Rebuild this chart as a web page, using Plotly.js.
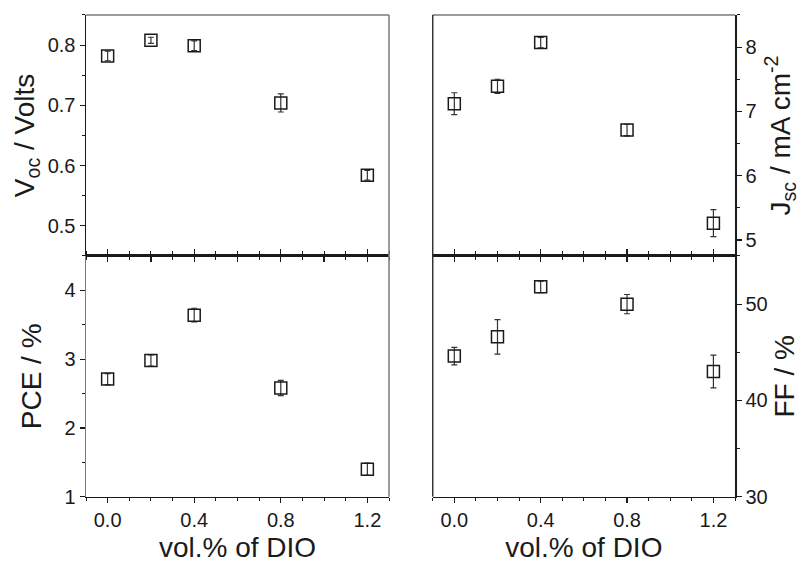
<!DOCTYPE html>
<html>
<head>
<meta charset="utf-8">
<script src="https://cdn.plot.ly/plotly-3.0.1.min.js"></script>
<style>html,body{margin:0;padding:0;background:#fff;}#chart{width:800px;height:563px;}</style>
</head>
<body>
<div id="chart"></div>
<script>
// vol.% of DIO
const dio = [0, 0.2, 0.4, 0.8, 1.2];
// Voc (Volts)
const voc = [0.782, 0.808, 0.799, 0.704, 0.584];
const vocErr = [0.008, 0.005, 0.008, 0.015, 0.008];
// Jsc (mA cm^-2)
const jsc = [7.12, 7.39, 8.07, 6.71, 5.26];
const jscErr = [0.17, 0.11, 0.08, 0.09, 0.21];
// PCE (%)
const pce = [2.71, 2.98, 3.64, 2.58, 1.40];
const pceErr = [0.08, 0.08, 0.10, 0.11, 0.09];
// FF (%)
const ff = [44.6, 46.6, 51.8, 50.0, 43.0];
const ffErr = [0.9, 1.8, 0.6, 1.0, 1.7];
// x ticks
const xMajorTicks = [0, 0.2, 0.4, 0.6, 0.8, 1.0, 1.2];
const xLabelVals = [0, 0.4, 0.8, 1.2];
const xLabelText = ['0.0', '0.4', '0.8', '1.2'];

const FONT = 'Liberation Sans, Arial, sans-serif';
const BLACK = '#1a1a1a';
const GRAY = '#7a7a7a';

function trace(y, err, xa, ya) {
  return {
    x: dio, y: y, xaxis: xa, yaxis: ya, type: 'scatter', mode: 'markers',
    marker: {symbol: 'square-open', size: 12, color: BLACK, line: {width: 1.5, color: BLACK}},
    error_y: {type: 'data', array: err, visible: true, color: '#333', thickness: 1.2, width: 3},
    showlegend: false, hoverinfo: 'x+y'
  };
}

const data = [
  trace(voc, vocErr, 'x', 'y'),
  trace(jsc, jscErr, 'x2', 'y2'),
  trace(pce, pceErr, 'x3', 'y3'),
  trace(ff, ffErr, 'x4', 'y4')
];

const xL = [0.1075, 0.48625];
const xR = [0.5409, 0.91875];
const yT = [0.5453, 0.9734];
const yB = [0.1178, 0.5453];

function xaxisTop(domain, anchor) {
  return {
    domain: domain, anchor: anchor, range: [-0.1, 1.3], showgrid: false, zeroline: false,
    showline: true, linecolor: BLACK, linewidth: 1.5,
    tickmode: 'array', tickvals: xMajorTicks,
    ticks: 'outside', ticklen: 5, tickwidth: 1.2, tickcolor: BLACK,
    minor: {dtick: 0.1, ticks: 'outside', ticklen: 3, tickcolor: BLACK, tickwidth: 1},
    showticklabels: false, fixedrange: true
  };
}
function xaxisBottom(domain, anchor) {
  return {
    domain: domain, anchor: anchor, range: [-0.1, 1.3], showgrid: false, zeroline: false,
    showline: true, linecolor: BLACK, linewidth: 1.5, mirror: 'ticks',
    tickmode: 'array', tickvals: xLabelVals, ticktext: xLabelText,
    ticks: 'outside', ticklen: 5, tickwidth: 1.2, tickcolor: BLACK,
    minor: {dtick: 0.1, ticks: 'outside', ticklen: 3, tickcolor: BLACK, tickwidth: 1},
    tickfont: {family: FONT, size: 20, color: BLACK},
    title: {text: 'vol.% of DIO', font: {family: FONT, size: 28, color: BLACK}, standoff: 10},
    automargin: false, fixedrange: true
  };
}
function yaxis(domain, anchor, range, dtick, minor, side, lc, title, standoff) {
  return {
    domain: domain, anchor: anchor, range: range, side: side, showgrid: false, zeroline: false,
    showline: true, linecolor: lc, linewidth: 1.5,
    dtick: dtick, tick0: 0, ticks: 'outside', ticklen: 5, tickwidth: 1.2, tickcolor: BLACK,
    minor: {dtick: minor, ticks: 'outside', ticklen: 3, tickcolor: BLACK, tickwidth: 1},
    tickfont: {family: FONT, size: 20, color: BLACK},
    title: {text: title, font: {family: FONT, size: 28, color: BLACK}, standoff: standoff},
    automargin: false, fixedrange: true
  };
}

function frameLine(xref, yref, x0, y0, x1, y1, color) {
  return {type: 'line', xref: xref, yref: yref, x0: x0, y0: y0, x1: x1, y1: y1,
          line: {color: color, width: 1.5}, layer: 'above'};
}

const layout = {
  width: 800, height: 563,
  margin: {l: 0, r: 0, t: 0, b: 0},
  paper_bgcolor: '#fff', plot_bgcolor: '#fff',
  font: {family: FONT, color: BLACK},
  xaxis: xaxisTop(xL, 'y'),
  yaxis: yaxis(yT, 'x', [0.45, 0.85], 0.1, 0.05, 'left', BLACK, 'V<sub>oc</sub> / Volts', 5),
  xaxis2: xaxisTop(xR, 'y2'),
  yaxis2: yaxis(yT, 'x2', [4.75, 8.5], 1, 0.5, 'right', BLACK, 'J<sub>sc</sub> / mA cm<sup>-2</sup>', 20),
  xaxis3: xaxisBottom(xL, 'y3'),
  yaxis3: yaxis(yB, 'x3', [1, 4.5], 1, 0.5, 'left', GRAY, 'PCE / %', 14),
  xaxis4: xaxisBottom(xR, 'y4'),
  yaxis4: yaxis(yB, 'x4', [30, 55], 10, 5, 'right', BLACK, 'FF / %', 9),
  shapes: [
    // top-left panel: top and right edges
    frameLine('x domain', 'y domain', 0, 1, 1, 1, GRAY),
    frameLine('x domain', 'y domain', 1, 0, 1, 1, GRAY),
    // top-right panel: top and left edges
    frameLine('x2 domain', 'y2 domain', 0, 1, 1, 1, GRAY),
    frameLine('x2 domain', 'y2 domain', 0, 0, 0, 1, '#333'),
    // bottom-left panel: right edge
    frameLine('x3 domain', 'y3 domain', 1, 0, 1, 1, GRAY),
    // bottom-right panel: left edge
    frameLine('x4 domain', 'y4 domain', 0, 0, 0, 1, '#333')
  ]
};

Plotly.newPlot('chart', data, layout, {displayModeBar: false, staticPlot: true});
</script>
</body>
</html>
